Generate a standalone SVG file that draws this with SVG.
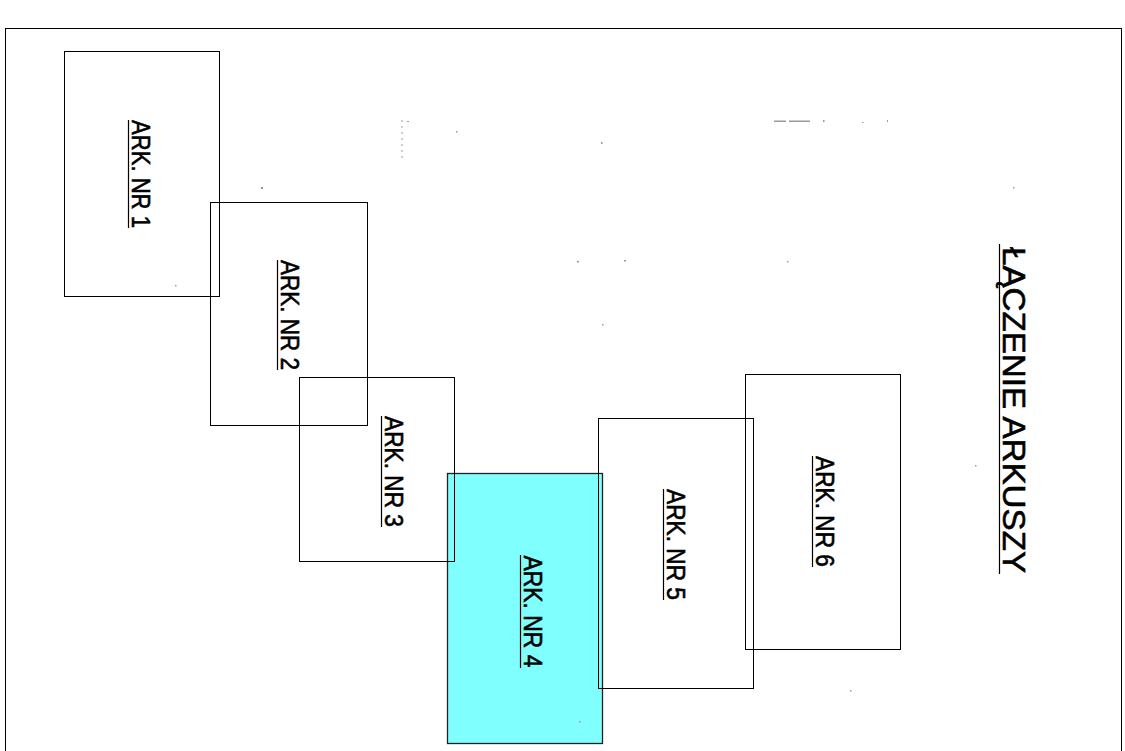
<svg xmlns="http://www.w3.org/2000/svg" width="1125" height="751" viewBox="0 0 1125 751">
<style>
.sheet{fill:none;stroke:#000;stroke-width:1}
.cyan{fill:#80FFFF;stroke:#222;stroke-width:1.3}
.lbl{font-family:"Liberation Sans","DejaVu Sans",sans-serif;font-size:26px;fill:#000;stroke:#000;stroke-width:0.6;text-anchor:middle}
.ttl{font-family:"Liberation Sans","DejaVu Sans",sans-serif;font-size:31px;fill:#000;stroke:#000;stroke-width:0.6;text-anchor:middle}
.ul{stroke:#000;stroke-width:1.2}
.sp{fill:#999}
</style>
<rect width="1125" height="751" fill="#fff"/>
<rect x="5.5" y="28.5" width="1116" height="740" class="sheet" stroke-width="1.3"/>
<g id="sheet4">
<rect x="447.5" y="473.5" width="155" height="270" class="cyan"/>
<line x1="520.5" y1="555" x2="520.5" y2="668" class="ul"/>
<text class="lbl" transform="translate(523.5,611.5) rotate(90)" textLength="112" lengthAdjust="spacingAndGlyphs">ARK. NR 4</text>
</g>
<g id="sheet1">
<rect x="64.5" y="51.5" width="155" height="245" class="sheet"/>
<line x1="128.5" y1="120" x2="128.5" y2="228" class="ul"/>
<text class="lbl" transform="translate(131.5,174) rotate(90)" textLength="108" lengthAdjust="spacingAndGlyphs">ARK. NR 1</text>
</g>
<g id="sheet2">
<rect x="210.5" y="202.5" width="157" height="223" class="sheet"/>
<line x1="277.5" y1="260" x2="277.5" y2="370" class="ul"/>
<text class="lbl" transform="translate(280.5,315) rotate(90)" textLength="110" lengthAdjust="spacingAndGlyphs">ARK. NR 2</text>
</g>
<g id="sheet3">
<rect x="299.5" y="377.5" width="155" height="184" class="sheet"/>
<line x1="381.5" y1="416" x2="381.5" y2="527" class="ul"/>
<text class="lbl" transform="translate(384.5,471.5) rotate(90)" textLength="111" lengthAdjust="spacingAndGlyphs">ARK. NR 3</text>
</g>
<g id="sheet5">
<rect x="598.5" y="418.5" width="155" height="270" class="sheet"/>
<line x1="663.5" y1="489" x2="663.5" y2="600" class="ul"/>
<text class="lbl" transform="translate(666.5,544.5) rotate(90)" textLength="111" lengthAdjust="spacingAndGlyphs">ARK. NR 5</text>
</g>
<g id="sheet6">
<rect x="745.5" y="374.5" width="155" height="275" class="sheet"/>
<line x1="812.5" y1="456" x2="812.5" y2="567" class="ul"/>
<text class="lbl" transform="translate(815.5,511.5) rotate(90)" textLength="111" lengthAdjust="spacingAndGlyphs">ARK. NR 6</text>
</g>
<g id="title">
<line x1="999.5" y1="244" x2="999.5" y2="574" class="ul"/>
<text class="ttl" transform="translate(1002.5,410) rotate(90)" textLength="326" lengthAdjust="spacingAndGlyphs">ŁĄCZENIE ARKUSZY</text>
</g>
<g id="specks">
<rect x="261" y="187" width="2" height="2" class="sp"/>
<line x1="402" y1="120" x2="402" y2="160" stroke="#999" stroke-width="1" stroke-dasharray="2 4"/>
<rect x="407" y="121" width="2" height="1" class="sp"/>
<rect x="456" y="131" width="1.5" height="1.5" class="sp"/>
<rect x="601" y="142" width="1.5" height="2" class="sp"/>
<rect x="774" y="120.5" width="12" height="1.5" class="sp"/>
<rect x="789" y="120.5" width="21" height="1.5" class="sp"/>
<rect x="823" y="120" width="1.5" height="2" class="sp"/>
<rect x="862" y="122" width="1.5" height="1" class="sp"/>
<rect x="887" y="120" width="1" height="2" class="sp"/>
<rect x="577" y="261" width="2" height="1.5" class="sp"/>
<rect x="624" y="260" width="2" height="1.5" class="sp"/>
<rect x="787" y="261" width="1.5" height="1.5" class="sp"/>
<rect x="602" y="324" width="1.5" height="1.5" class="sp"/>
<rect x="175" y="285" width="1.5" height="1.5" class="sp"/>
<rect x="1013" y="187" width="1.5" height="1.5" class="sp"/>
<rect x="975" y="465" width="1.5" height="1.5" class="sp"/>
<rect x="850" y="690" width="1.5" height="1.5" class="sp"/>
<rect x="579" y="721" width="1.5" height="1.5" class="sp"/>
</g>
</svg>
